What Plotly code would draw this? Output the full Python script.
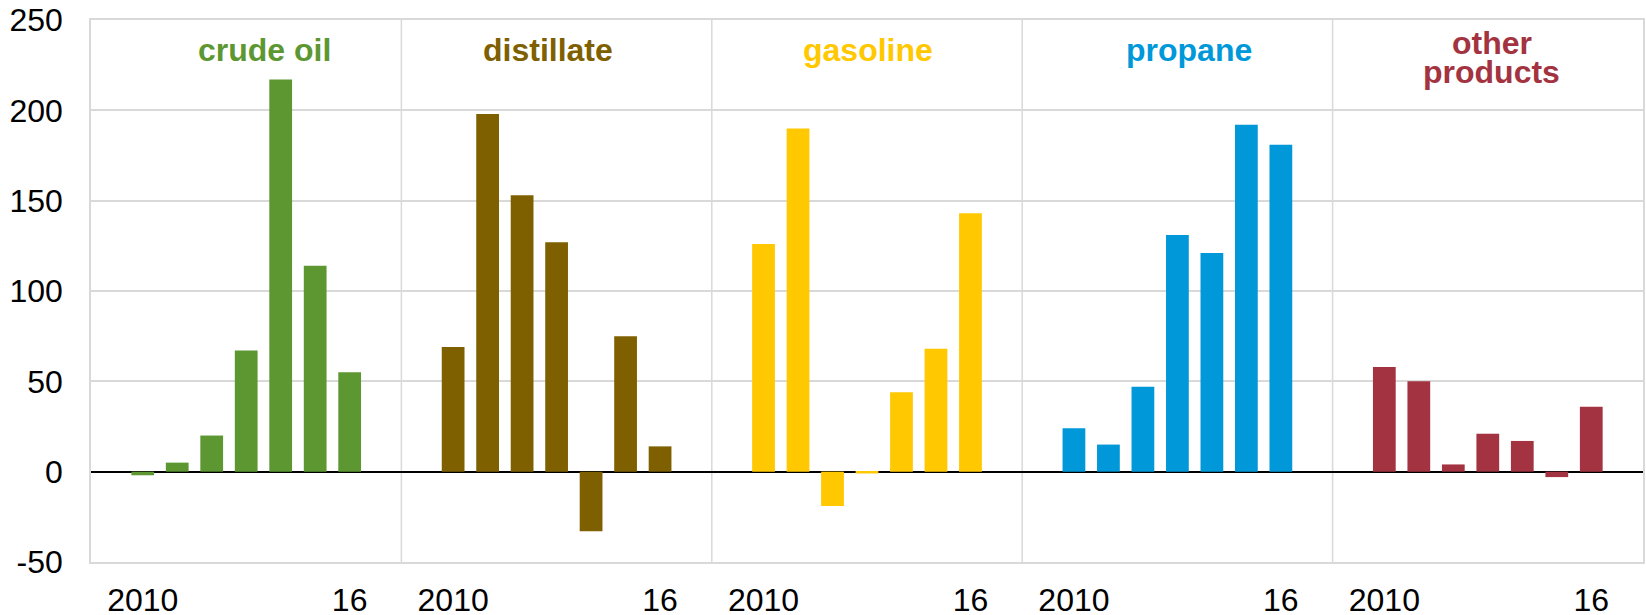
import plotly.graph_objects as go

years = ["2010", "2011", "2012", "2013", "2014", "2015", "2016"]
tick_labels = ["2010", "", "", "", "", "", "16"]
products = ["crude oil", "distillate", "gasoline", "propane", "other products"]
crude_oil = [-2, 5, 20, 67, 217, 114, 55]
distillate = [69, 198, 153, 127, -33, 75, 14]
gasoline = [126, 190, -19, -1, 44, 68, 143]
propane = [24, 15, 47, 131, 121, 192, 181]
other_products = [58, 50, 4, 21, 17, -3, 36]
series = [crude_oil, distillate, gasoline, propane, other_products]
colors = ["#5D9732", "#7F6000", "#FFC800", "#0098D8", "#A33340"]
y_ticks = [-50, 0, 50, 100, 150, 200, 250]
y_tick_text = ["-50", "0", "50", "100", "150", "200", "250"]

SLOTS = 9  # 7 years plus one empty slot each side per panel
FONT = "Liberation Sans, Arial, sans-serif"
fig = go.Figure()
tickvals, ticktext = [], []
for p, (name, vals, col) in enumerate(zip(products, series, colors)):
    xs = [p * SLOTS + 1 + i for i in range(len(years))]
    fig.add_trace(go.Bar(
        x=xs, y=vals, name=name, marker=dict(color=col, line=dict(width=0)),
        width=0.66, showlegend=False,
        hovertext=[f"{name} {y}" for y in years],
    ))
    for xv, t in zip(xs, tick_labels):
        if t:
            tickvals.append(xv)
            ticktext.append(t)

# panel dividers
for p in range(1, len(products)):
    fig.add_shape(type="line", xref="x", yref="paper", x0=p * SLOTS - 0.5, x1=p * SLOTS - 0.5,
                  y0=0, y1=1, line=dict(color="#D9D9D9", width=1.5), layer="below")

# panel titles
title_pos = [4.53, 12.76, 22.04, 31.33, 40.11]
for p, (name, col) in enumerate(zip(products, colors)):
    fnt = dict(family=FONT, size=32, color=col)
    if name == "other products":
        fig.add_annotation(x=title_pos[p], y=237.3, text="<b>other</b>", showarrow=False,
                           xref="x", yref="y", font=fnt, yanchor="middle")
        fig.add_annotation(x=title_pos[p], y=221.2, text="<b>products</b>", showarrow=False,
                           xref="x", yref="y", font=fnt, yanchor="middle")
    else:
        fig.add_annotation(x=title_pos[p], y=233.6, text=f"<b>{name}</b>", showarrow=False,
                           xref="x", yref="y", font=fnt, yanchor="middle")

fig.update_layout(
    width=1646, height=615,
    margin=dict(l=91, r=3, t=20, b=53),
    plot_bgcolor="white", paper_bgcolor="white",
    font=dict(family=FONT, size=32, color="black"),
)
fig.update_xaxes(
    range=[-0.5, len(products) * SLOTS - 0.5], automargin=False,
    tickmode="array", tickvals=tickvals, ticktext=ticktext,
    showgrid=False, zeroline=False,
    showline=True, linecolor="#D9D9D9", linewidth=1.5, mirror=True,
    ticks="outside", ticklen=9, tickcolor="rgba(0,0,0,0)",
    tickfont=dict(size=32),
)
fig.update_yaxes(
    range=[-50, 250], automargin=False,
    tickmode="array", tickvals=y_ticks, ticktext=y_tick_text,
    showgrid=True, gridcolor="#D9D9D9", gridwidth=1.5,
    zeroline=True, zerolinecolor="black", zerolinewidth=1.5,
    showline=True, linecolor="#D9D9D9", linewidth=1.5, mirror=True,
    ticks="outside", ticklen=20, tickcolor="rgba(0,0,0,0)",
    tickfont=dict(size=32),
)

fig.write_html(
    "out.html",
    config={"displayModeBar": False},
    post_script="document.body.style.margin='0';document.body.style.overflow='hidden';",
)
